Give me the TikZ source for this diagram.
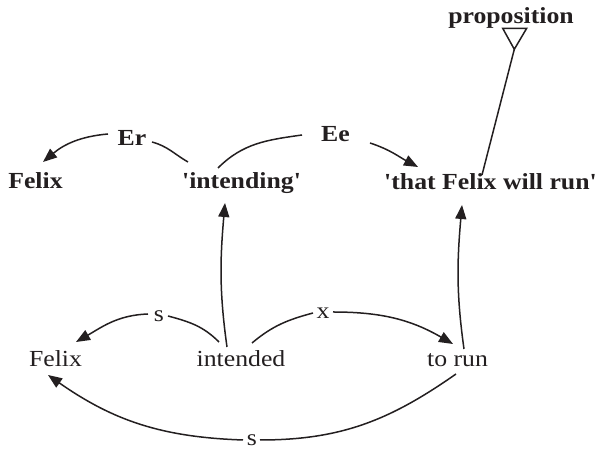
\documentclass[tikz,border=0pt]{standalone}
\usepackage{fontspec}
\setmainfont{Liberation Serif}
\usepackage{graphicx}
\usetikzlibrary{arrows.meta}
\definecolor{ink}{RGB}{35,31,32}
\newcommand{\wtxt}[1]{\scalebox{1.12}[1]{#1}}
\newcommand{\q}{\textquotesingle}
\tikzset{
  bl/.style={inner sep=0pt, anchor=base, text=ink, font=\fontsize{23}{27}\selectfont\bfseries},
  rg/.style={inner sep=0pt, anchor=base, text=ink, font=\fontsize{23}{27}\selectfont},
  edge/.style={draw=ink, line width=1.5pt},
  arr/.style={edge, -{Triangle[length=14pt,width=11pt]}}
}
\begin{document}
\begin{tikzpicture}[x=1pt,y=1pt]
\useasboundingbox (0,0) rectangle (598,449);
% nodes
\node[bl] (prop) at (511,425) {\wtxt{proposition}};
\node[bl] (fb) at (35.5,260) {\wtxt{Felix}};
\node[bl] (ing) at (241.5,260) {\wtxt{\q intending\q}};
\node[bl] (tf) at (490.5,259) {\wtxt{\q that Felix will run\q}};
\node[bl] (er) at (132,303) {\wtxt{Er}};
\node[bl] (ee) at (335.5,307) {\wtxt{Ee}};
\node[rg] (f) at (55.5,82) {\wtxt{Felix}};
\node[rg] (int) at (241,82) {\wtxt{intended}};
\node[rg] (run) at (457.5,82) {\wtxt{to run}};
\node[rg] (s1) at (159,127.3) {\wtxt{s}};
\node[rg] (xl) at (323,130) {\wtxt{x}};
\node[rg] (s2) at (252,3.5) {\wtxt{s}};
% proposition triangle and line
\coordinate (apex) at ([shift={(3.3,-25.3)}]prop.base);
\draw[edge, line join=miter] ([shift={(-8.3,-4.3)}]prop.base) -- ([shift={(15.7,-4.3)}]prop.base) -- (apex) -- cycle;
\draw[edge] (apex) -- ([shift={(-8.5,15)}]tf.base);
% Er
\draw[edge] ([shift={(-53.5,27)}]ing.base) to[out=150, in=-15] ([shift={(20,4)}]er.base);
\draw[arr] ([shift={(-24,12)}]er.base) to[out=185, in=40] ([shift={(7.5,27)}]fb.base);
% Ee
\draw[edge] ([shift={(-23.5,21)}]ing.base) to[out=45, in=188] ([shift={(-33.5,7)}]ee.base);
\draw[arr] ([shift={(34.5,-1)}]ee.base) to[out=-18, in=152] ([shift={(-72.5,23)}]tf.base);
% vertical arrows
\draw[arr] ([shift={(-14,20)}]int.base) to[out=98, in=-95] ([shift={(-16.5,-14)}]ing.base);
\draw[arr] ([shift={(6.5,18)}]run.base) to[out=98, in=-95] ([shift={(-28.5,-15)}]tf.base);
% s (top)
\draw[edge] ([shift={(-22,25)}]int.base) to[out=135, in=-15] ([shift={(9,5.7)}]s1.base);
\draw[arr] ([shift={(-11,7.7)}]s1.base) to[out=182, in=30] ([shift={(20.5,25)}]f.base);
% x
\draw[edge] ([shift={(11,24)}]int.base) to[out=40, in=195] ([shift={(-10,6)}]xl.base);
\draw[arr] ([shift={(10,7)}]xl.base) to[out=0, in=150] ([shift={(-4.5,23)}]run.base);
% s (bottom)
\draw[edge] ([shift={(-1.5,-7)}]run.base) to[out=-145, in=0] ([shift={(8,5.5)}]s2.base);
\draw[arr] ([shift={(-9,5.5)}]s2.base) to[out=178, in=-35] ([shift={(-7.5,-8)}]f.base);
\end{tikzpicture}
\end{document}
